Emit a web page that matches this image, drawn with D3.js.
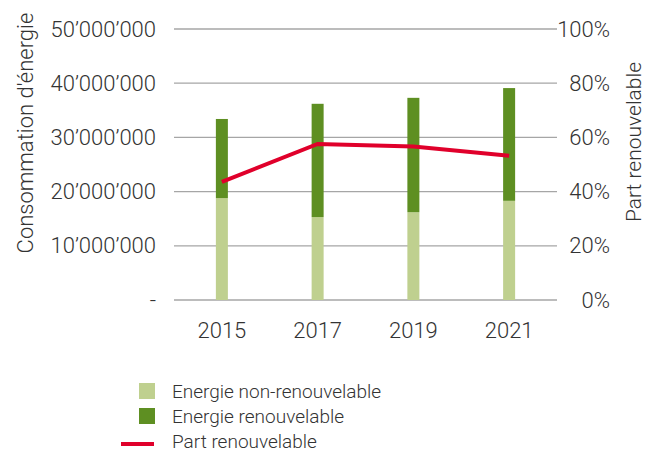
<!DOCTYPE html>
<html lang="fr">
<head>
    <meta charset="UTF-8">
    <title>Consommation d'énergie</title>
    <script src="https://cdnjs.cloudflare.com/ajax/libs/d3/7.8.5/d3.min.js"></script>
    <style>
        body { margin: 0; background: #fff; }
        text { font-family: Roboto, "Liberation Sans", sans-serif; font-weight: 300; fill: #333; }
    </style>
</head>
<body>
    <div id="wrapper"></div>
    <script>
        // données
        const years = ['2015', '2017', '2019', '2021']
        const nonRenewable = [18.8e6, 15.3e6, 16.2e6, 18.3e6]
        const renewable = [14.6e6, 20.9e6, 21.1e6, 20.8e6]
        const renewableShare = [0.436, 0.576, 0.566, 0.532]
        const leftTicks = [0, 10e6, 20e6, 30e6, 40e6, 50e6]
        const rightTicks = [0, 0.2, 0.4, 0.6, 0.8, 1]

        const colors = { non: '#bfd08f', ren: '#5e8f22', line: '#e0002b', grid: '#a6a6a6' }

        const dimensions = {
            width: 646,
            height: 454,
            margin: { top: 29, right: 89, bottom: 154, left: 174 }
        }
        dimensions.boundedWidth = dimensions.width - dimensions.margin.left - dimensions.margin.right
        dimensions.boundedHeight = dimensions.height - dimensions.margin.top - dimensions.margin.bottom

        const svg = d3.select('#wrapper')
            .append('svg')
                .attr('width', dimensions.width)
                .attr('height', dimensions.height)

        const bounds = svg.append('g')
            .attr('transform', `translate(${dimensions.margin.left},${dimensions.margin.top})`)

        // échelles
        const xScale = d3.scaleBand()
            .domain(years)
            .range([0, dimensions.boundedWidth])

        const yScale = d3.scaleLinear()
            .domain([0, 50e6])
            .range([dimensions.boundedHeight, 0])

        const pScale = d3.scaleLinear()
            .domain([0, 1])
            .range([dimensions.boundedHeight, 0])

        // grille
        bounds.append('g')
            .selectAll('line')
            .data(leftTicks)
            .join('line')
                .attr('x1', 0)
                .attr('x2', dimensions.boundedWidth)
                .attr('y1', d => yScale(d))
                .attr('y2', d => yScale(d))
                .attr('stroke', colors.grid)
                .attr('stroke-width', 1.3)

        // axe gauche
        const fmt = d => d === 0 ? '-' : d3.format(',')(d).replace(/,/g, '\u2019')
        const leftAxis = bounds.append('g')
            .call(d3.axisLeft(yScale).tickValues(leftTicks).tickFormat(fmt).tickSize(0).tickPadding(18))
        leftAxis.select('.domain').remove()
        leftAxis.selectAll('text')
            .style('font-size', '22px')
            .attr('fill', '#333')

        // axe droit
        const rightAxis = bounds.append('g')
            .attr('transform', `translate(${dimensions.boundedWidth},0)`)
            .call(d3.axisRight(pScale).tickValues(rightTicks).tickFormat(d3.format('.0%')).tickSize(0).tickPadding(0))
        rightAxis.select('.domain').remove()
        rightAxis.selectAll('text')
            .attr('x', 53)
            .style('text-anchor', 'end')
            .style('font-size', '22px')
            .attr('fill', '#333')

        // axe x
        const xAxis = bounds.append('g')
            .attr('transform', `translate(0,${dimensions.boundedHeight})`)
            .call(d3.axisBottom(xScale).tickSize(0).tickPadding(22))
        xAxis.select('.domain').remove()
        xAxis.selectAll('text')
            .style('font-size', '22px')
            .attr('fill', '#333')

        // barres
        const barWidth = 12
        const barX = d => xScale(d) + xScale.bandwidth() / 2 - barWidth / 2
        bounds.append('g')
            .selectAll('rect')
            .data(years)
            .join('rect')
                .attr('x', barX)
                .attr('width', barWidth)
                .attr('y', (d, i) => yScale(nonRenewable[i]))
                .attr('height', (d, i) => dimensions.boundedHeight - yScale(nonRenewable[i]))
                .attr('fill', colors.non)

        bounds.append('g')
            .selectAll('rect')
            .data(years)
            .join('rect')
                .attr('x', barX)
                .attr('width', barWidth)
                .attr('y', (d, i) => yScale(nonRenewable[i] + renewable[i]))
                .attr('height', (d, i) => yScale(nonRenewable[i]) - yScale(nonRenewable[i] + renewable[i]))
                .attr('fill', colors.ren)

        // ligne
        const lineGenerator = d3.line()
            .x((d, i) => xScale(years[i]) + xScale.bandwidth() / 2)
            .y(d => pScale(d))
        bounds.append('path')
            .datum(renewableShare)
            .attr('d', lineGenerator)
            .attr('fill', 'none')
            .attr('stroke', colors.line)
            .attr('stroke-width', 4)

        // titres des axes
        svg.append('text')
            .attr('transform', 'translate(33,133) rotate(-90)')
            .style('text-anchor', 'middle')
            .style('font-size', '22px')
            .text("Consommation d'énergie")

        svg.append('text')
            .attr('transform', 'translate(641,142) rotate(-90)')
            .style('text-anchor', 'middle')
            .style('font-size', '21px')
            .text('Part renouvelable')

        // légende
        const legend = svg.append('g').attr('transform', 'translate(139,383)')
        const legendItems = [
            { label: 'Energie non-renouvelable', color: colors.non, type: 'rect' },
            { label: 'Energie renouvelable', color: colors.ren, type: 'rect' },
            { label: 'Part renouvelable', color: colors.line, type: 'line' }
        ]
        legendItems.forEach((item, i) => {
            const g = legend.append('g').attr('transform', `translate(0,${i * 25})`)
            if (item.type === 'rect') {
                g.append('rect')
                    .attr('width', 16)
                    .attr('height', 16)
                    .attr('fill', item.color)
            } else {
                g.append('line')
                    .attr('x1', -18).attr('x2', 15)
                    .attr('y1', 11).attr('y2', 11)
                    .attr('stroke', item.color)
                    .attr('stroke-width', 4)
            }
            g.append('text')
                .attr('x', 33)
                .attr('y', 8)
                .attr('dy', '0.35em')
                .style('font-size', '19px')
                .text(item.label)
        })
    </script>
</body>
</html>
